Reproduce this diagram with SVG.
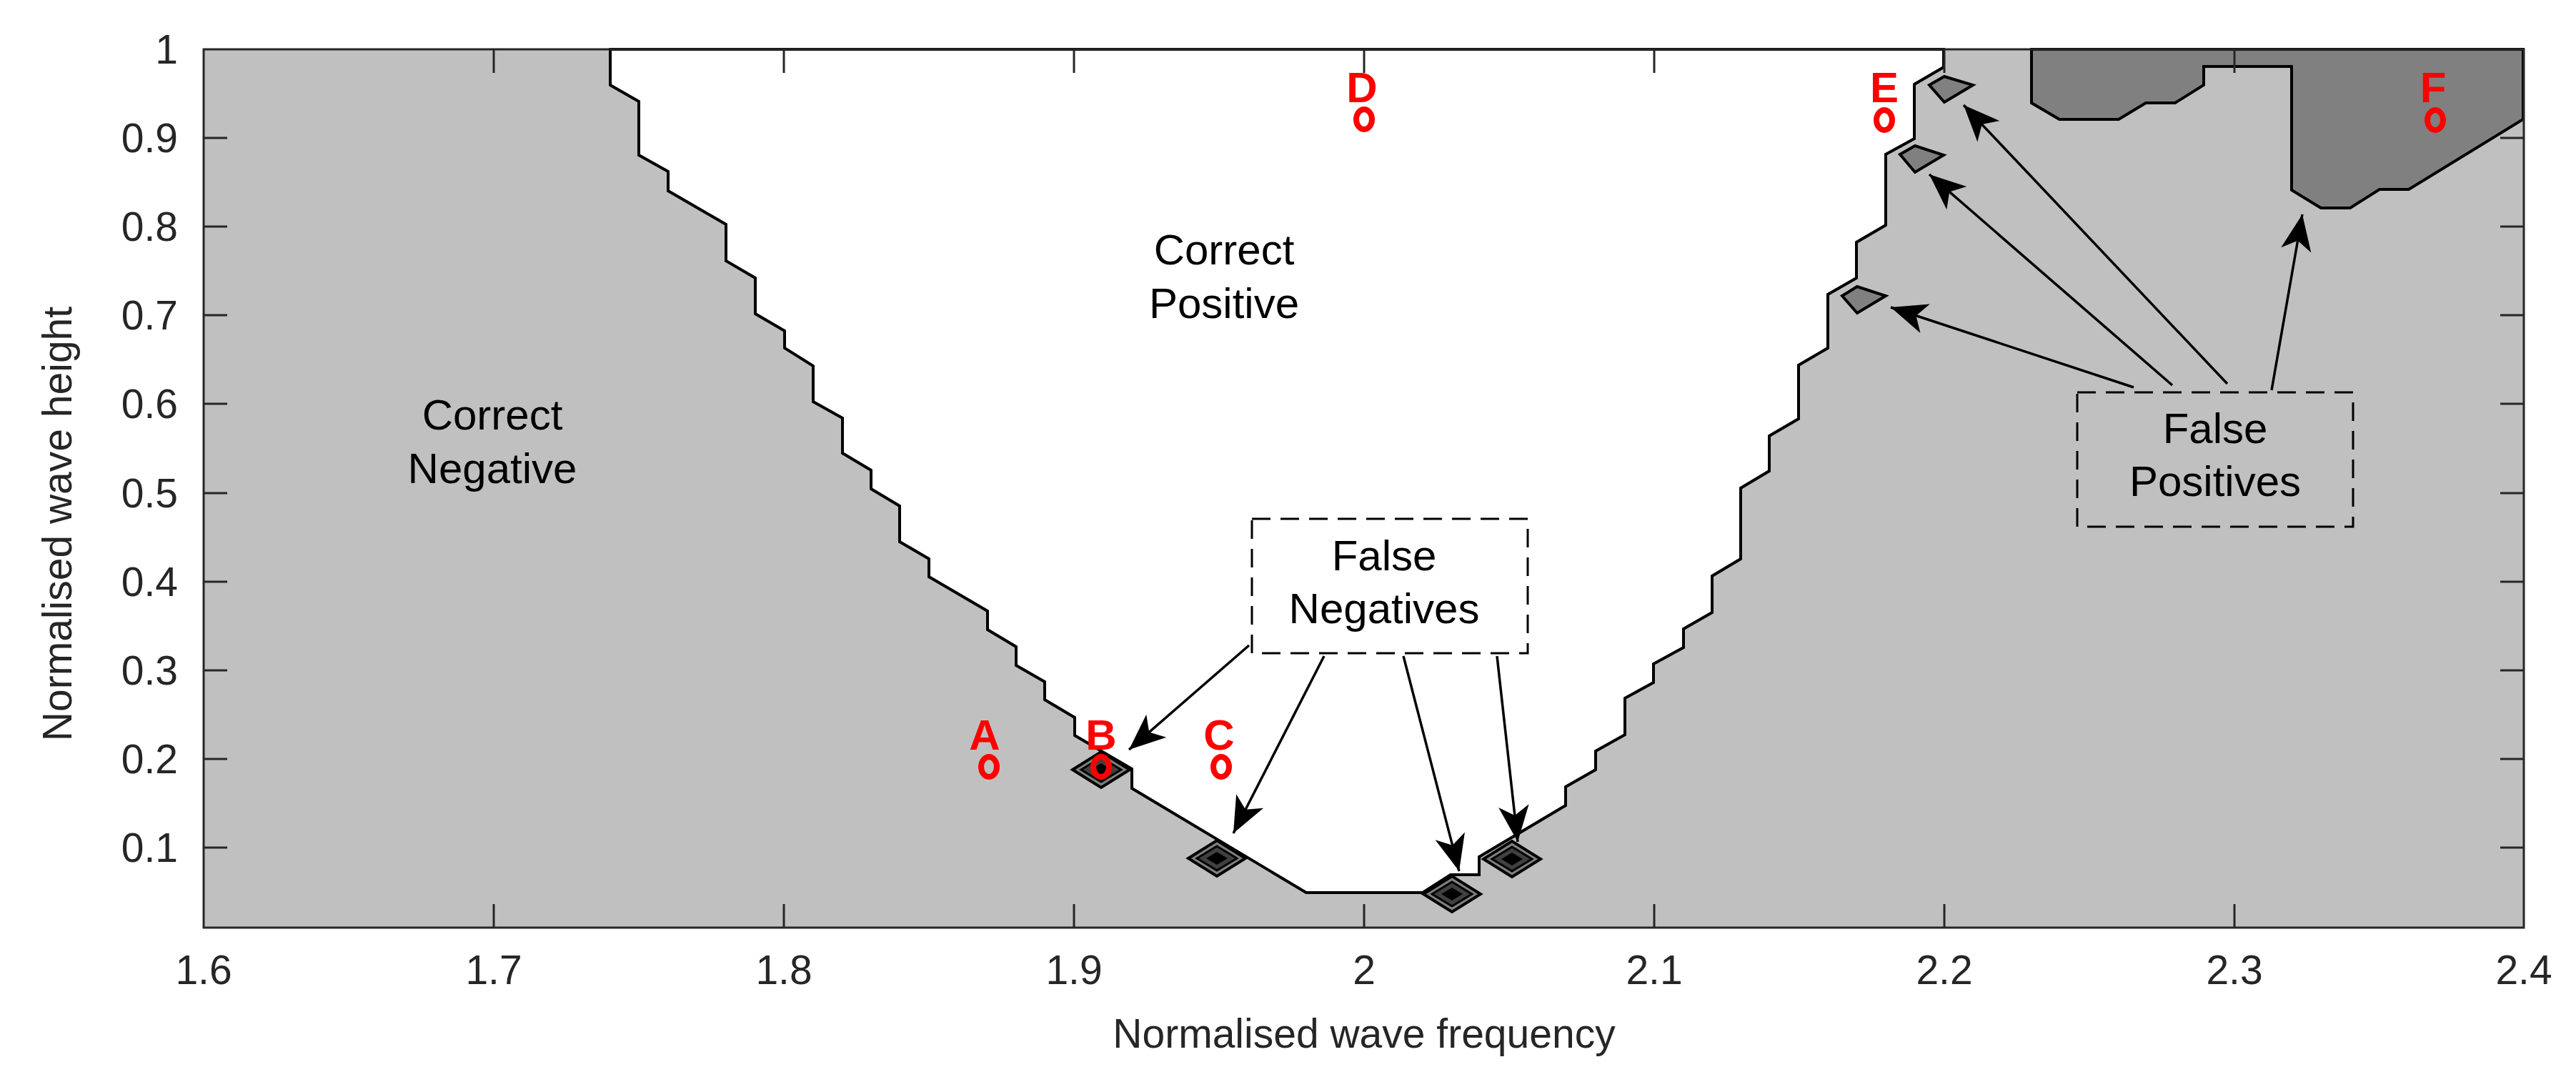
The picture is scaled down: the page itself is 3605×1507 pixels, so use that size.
<svg xmlns="http://www.w3.org/2000/svg" width="3605" height="1507" viewBox="0 0 3605 1507">
<style>
.t{font-family:"Liberation Sans",Arial,sans-serif;fill:#000;font-size:60px;text-anchor:middle}
.tk{font-family:"Liberation Sans",Arial,sans-serif;fill:#262626;font-size:57px}
.ax{stroke:#262626;stroke-width:3;fill:none}
.r{font-family:"Liberation Sans",Arial,sans-serif;fill:#ff0000;font-size:60px;font-weight:bold;text-anchor:middle}
.o{fill:none;stroke:#ff0000;stroke-width:8}
.fp{fill:#808080;stroke:#000;stroke-width:4}
.box{fill:none;stroke:#000;stroke-width:3;stroke-dasharray:26,14}
.ar{stroke:#000;stroke-width:3.5;fill:none;marker-end:url(#ah)}
</style>
<defs>
<marker id="ah" markerUnits="userSpaceOnUse" markerWidth="60" markerHeight="60" viewBox="-40 -20 45 40" refX="0" refY="0" orient="auto">
<path d="M0,0 L-38,-16 L-28,0 L-38,16 Z" fill="#000"/>
</marker>
<g id="dia">
<path d="M-40,0 L0,-25 L40,0 L0,25 Z" fill="#808080" stroke="#000" stroke-width="4"/>
<path d="M-28,0 L0,-17 L28,0 L0,17 Z" fill="#404040" stroke="#000" stroke-width="3"/>
<path d="M-15,0 L0,-9 L15,0 L0,9 Z" fill="#000"/>
</g>
</defs>
<rect width="3605" height="1507" fill="#fff"/>
<g id="regions">
<rect x="285" y="69" width="3247" height="1229" fill="#c0c0c0"/>
<path d="M854,69 L854,119 L894,142 L894,217 L935,240 L935,267 L1016,314 L1016,365 L1057,389 L1057,439 L1098,463 L1098,487 L1138,512 L1138,562 L1179,585 L1179,634 L1219,658 L1219,684 L1259,708 L1259,758 L1300,782 L1300,807 L1382,855 L1382,881 L1422,905 L1422,931 L1462,954 L1462,979 L1504,1004 L1504,1029 L1584,1076 L1584,1103 L1828,1249 L1991,1249 L2030,1224 L2070,1224 L2070,1199 L2191,1127 L2191,1101 L2233,1077 L2233,1051 L2274,1028 L2274,977 L2314,955 L2314,929 L2356,906 L2356,880 L2396,857 L2396,806 L2436,782 L2436,683 L2476,659 L2476,610 L2517,586 L2517,511 L2558,487 L2558,412 L2598,389 L2598,339 L2639,315 L2639,216 L2679,194 L2679,118 L2720,94 L2720,69 Z" fill="#fff" stroke="#000" stroke-width="4"/>
<path d="M2843,69 L2843,144 L2882,167 L2965,167 L3003,144 L3044,144 L3084,119 L3084,93 L3207,93 L3207,266 L3248,291 L3289,291 L3330,265 L3371,265 L3531,167 L3531,69 Z" fill="#808080" stroke="#000" stroke-width="4"/>
</g>
<g id="false-positive-cells">
<path class="fp" d="M2700,119 L2721,107 L2761,119 L2721,143 Z"/>
<path class="fp" d="M2659,216 L2680,204 L2720,217 L2680,241 Z"/>
<path class="fp" d="M2578,414 L2599,401 L2639,414 L2599,438 Z"/>
</g>
<g id="false-negative-cells">
<use href="#dia" x="1541" y="1077"/>
<use href="#dia" x="1703" y="1201"/>
<use href="#dia" x="2032" y="1251"/>
<use href="#dia" x="2116" y="1202"/>
</g>
<g id="axes">
<rect class="ax" x="285" y="69" width="3247" height="1229"/>
<path class="ax" d="M691,1298v-33M1097,1298v-33M1503,1298v-33M1909,1298v-33M2315,1298v-33M2721,1298v-33M3127,1298v-33M691,69v33M1097,69v33M1503,69v33M1909,69v33M2315,69v33M2721,69v33M3127,69v33M285,1186h33M285,1062h33M285,938h33M285,814h33M285,690h33M285,565h33M285,441h33M285,317h33M285,193h33M3532,1186h-33M3532,1062h-33M3532,938h-33M3532,814h-33M3532,690h-33M3532,565h-33M3532,441h-33M3532,317h-33M3532,193h-33"/>
<g class="tk" text-anchor="end">
<text x="249" y="1206">0.1</text><text x="249" y="1082">0.2</text><text x="249" y="958">0.3</text><text x="249" y="834">0.4</text><text x="249" y="710">0.5</text><text x="249" y="585">0.6</text><text x="249" y="461">0.7</text><text x="249" y="337">0.8</text><text x="249" y="213">0.9</text><text x="249" y="89">1</text>
</g>
<g class="tk" text-anchor="middle">
<text x="285" y="1377">1.6</text><text x="691" y="1377">1.7</text><text x="1097" y="1377">1.8</text><text x="1503" y="1377">1.9</text><text x="1909" y="1377">2</text><text x="2315" y="1377">2.1</text><text x="2721" y="1377">2.2</text><text x="3127" y="1377">2.3</text><text x="3532" y="1377">2.4</text>
</g>
<text class="tk" x="1909" y="1466" text-anchor="middle" font-size="64">Normalised wave frequency</text>
<text class="tk" transform="translate(100,733) rotate(-90)" text-anchor="middle" font-size="66">Normalised wave height</text>
</g>
<g id="region-labels">
<text class="t" x="689" y="601">Correct</text><text class="t" x="689" y="676">Negative</text>
<text class="t" x="1713" y="370">Correct</text><text class="t" x="1713" y="445">Positive</text>
</g>
<g id="points">
<text class="r" x="1378" y="1049">A</text><ellipse class="o" cx="1384" cy="1073" rx="11" ry="14"/>
<text class="r" x="1541" y="1049">B</text><ellipse class="o" cx="1541" cy="1073" rx="11" ry="14"/>
<text class="r" x="1706" y="1049">C</text><ellipse class="o" cx="1709" cy="1073" rx="11" ry="14"/>
<text class="r" x="1906" y="143">D</text><ellipse class="o" cx="1909" cy="167" rx="11" ry="14"/>
<text class="r" x="2637" y="143">E</text><ellipse class="o" cx="2637" cy="168" rx="11" ry="14"/>
<text class="r" x="3405" y="143">F</text><ellipse class="o" cx="3408" cy="168" rx="11" ry="14"/>
</g>
<g id="false-negatives">
<rect class="box" x="1752" y="726" width="386" height="188"/>
<text class="t" x="1937" y="798">False</text><text class="t" x="1937" y="872">Negatives</text>
</g>
<g id="false-positives">
<rect class="box" x="2907" y="549" width="386" height="188"/>
<text class="t" x="3100" y="620">False</text><text class="t" x="3100" y="694">Positives</text>
</g>
<g id="connectors">
<path class="ar" d="M1748,903 L1580,1049"/>
<path class="ar" d="M1853,918 L1726,1166"/>
<path class="ar" d="M1964,918 L2042,1219"/>
<path class="ar" d="M2095,918 L2124,1178"/>
<path class="ar" d="M2986,542 L2646,430"/>
<path class="ar" d="M3040,539 L2700,244"/>
<path class="ar" d="M3117,537 L2748,147"/>
<path class="ar" d="M3179,546 L3222,300"/>
</g>
</svg>
